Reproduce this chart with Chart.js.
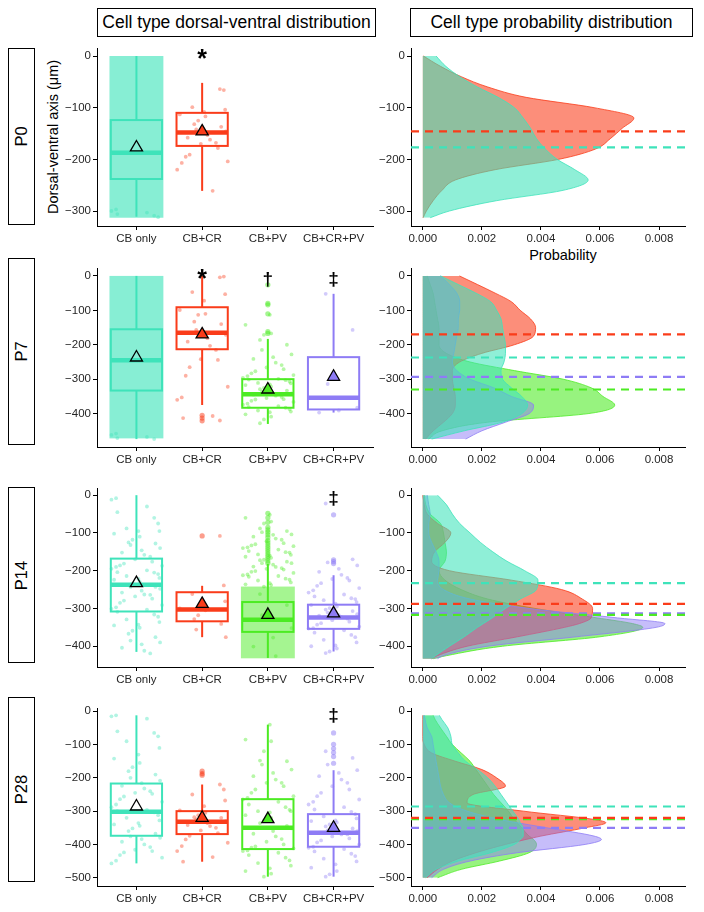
<!DOCTYPE html>
<html>
<head>
<meta charset="utf-8">
<script src="https://cdn.jsdelivr.net/npm/chart.js@4.4.1/dist/chart.umd.min.js"></script>
<style>
  body { margin: 0; background: #fff; font-family: 'Liberation Sans', Arial, sans-serif; }
  #page { position: relative; width: 704px; height: 912px; overflow: hidden; background: #fff; }
  .frame { position: absolute; border: 1px solid #000; box-sizing: border-box; display: flex;
           align-items: center; justify-content: center; color: #000; white-space: nowrap; }
  .hdr { font-size: 17.5px; }
  .row span { display: block; transform: rotate(-90deg); font-size: 16.5px; }
  .lbl { position: absolute; white-space: nowrap; color: #000; font-size: 14.5px; transform: translate(-50%, -50%); }
  canvas { position: absolute; }
</style>
</head>
<body>
<div id="page">
  <div class="frame hdr" style="left:97px;top:8px;width:279px;height:29px">Cell type dorsal-ventral distribution</div>
  <div class="frame hdr" style="left:410px;top:8px;width:283px;height:29px">Cell type probability distribution</div>
  <div class="lbl" style="left:53px;top:137px;transform:translate(-50%,-50%) rotate(-90deg)">Dorsal-ventral axis (μm)</div>
  <div class="lbl" style="left:563px;top:255px">Probability</div>
</div>
<script>
const groups = ['CB only', 'CB+CR', 'CB+PV', 'CB+CR+PV'];
const stages = ['P0', 'P7', 'P14', 'P28'];

// box stats per group: [lower whisker, Q1, median, Q3, upper whisker] (µm)
const boxP0 = [[-311, -238, -187, -124, 0], [-261, -174, -148, -110, -52], null, null];
const boxP7 = [[-474, -333, -245, -155, 0], [-375, -213, -165, -91, 0], [-430, -383, -344, -300, -183], [-397, -388, -354, -236, -52]];
const boxP14 = [[-415, -308, -237, -168, 0], [-376, -334, -303, -257, -240], [-431, -362, -330, -283, -182], [-414, -354, -324, -290, -212]];
const boxP28 = [[-457, -374, -302, -217, -12], [-452, -369, -332, -300, -220], [-497, -414, -350, -264, -40], [-497, -407, -365, -309, -177]];

// group means (triangles and dashed lines)
const meanP0 = [-177, -146, null, null];
const meanP7 = [-237, -170, -330, -293];
const meanP14 = [-233, -288, -317, -313];
const meanP28 = [-286, -320, -324, -350];

// boxplot outliers
const outP0 = [[], [], [], []];
const outP7 = [[], [-405, -413, -421], [-26, -80, -84, -110, -162, -167], []];
const outP14 = [[], [-108], [-48, -60, -72, -85, -92, -98, -105, -112, -120, -126, -132, -138, -144, -150, -156, -162, -168, -174, -180], [-52, -171, -176, -181]];
const outP28 = [[], [-180, -187, -192], [], [-65, -99, -112, -124, -136, -156]];

// dense point clouds [deepest, shallowest]
const cloudP0 = [[-313, 0], null, null, null];
const cloudP7 = [[-472, 0], null, null, null];
const cloudP14 = [null, null, [-432, -242], null];
const cloudP28 = [null, null, null, null];

// individual cell depths (jittered points)
const ptsP0 = [
  [-297, -300, -303, -306, -309, -312],
  [-64, -66, -99, -104, -108, -113, -117, -125, -132, -137, -142, -146, -153, -158, -162, -168, -170, -178, -191, -195, -204, -207, -220, -261],
  [], []
];
const ptsP7 = [
  [-458, -462, -468, -471, -474],
  [-4, -2, -47, -53, -72, -99, -110, -113, -133, -140, -157, -171, -181, -191, -203, -215, -242, -244, -265, -290, -322, -353, -360, -407, -413, -420],
  [-113, -142, -167, -171, -186, -200, -215, -228, -236, -241, -252, -259, -266, -271, -277, -283, -288, -291, -296, -299, -301, -303, -307, -311, -312, -315, -317, -322, -325, -329, -333, -336, -341, -344, -345, -348, -352, -355, -358, -359, -363, -366, -371, -374, -378, -381, -383, -387, -391, -394, -396, -402, -409, -417, -428],
  [-52, -157, -314, -383, -391, -397]
];
const ptsP14 = [
  [-8, -12, -30, -45, -60, -75, -88, -95, -95, -102, -110, -118, -125, -128, -132, -140, -146, -152, -158, -163, -170, -176, -181, -186, -187, -190, -195, -199, -204, -205, -209, -214, -219, -222, -224, -229, -234, -238, -243, -243, -248, -253, -258, -263, -264, -268, -274, -279, -285, -291, -297, -301, -303, -309, -316, -322, -329, -336, -343, -345, -351, -359, -367, -376, -385, -390, -395, -404, -412, -419],
  [-108, -239, -262, -281, -293, -300, -305, -318, -328, -341, -356, -376],
  [-52, -60, -70, -75, -88, -95, -98, -104, -105, -110, -115, -118, -122, -127, -130, -133, -135, -138, -140, -144, -148, -151, -152, -157, -158, -160, -163, -166, -171, -172, -176, -180, -180, -184, -189, -190, -193, -195, -197, -201, -203, -206, -210, -212, -214, -216, -221, -224, -226, -231, -233, -236, -238, -242, -262, -291, -318, -352, -377, -401, -426],
  [-22, -170, -178, -186, -195, -203, -211, -219, -222, -226, -233, -240, -246, -252, -258, -263, -268, -273, -275, -278, -283, -287, -291, -295, -299, -303, -307, -311, -315, -318, -319, -323, -327, -331, -335, -339, -343, -348, -352, -353, -358, -364, -370, -376, -383, -390, -398, -400, -406, -414, -418]
];
const ptsP28 = [
  [-12, -15, -22, -60, -65, -75, -90, -110, -130, -142, -155, -168, -180, -190, -200, -208, -216, -224, -232, -240, -245, -248, -256, -264, -272, -280, -288, -296, -300, -304, -312, -320, -328, -336, -340, -344, -352, -360, -368, -376, -380, -384, -392, -400, -408, -416, -420, -424, -432, -440, -449, -457],
  [-220, -235, -250, -268, -285, -298, -305, -312, -318, -320, -325, -330, -336, -342, -345, -350, -358, -366, -374, -385, -395, -405, -420, -438, -452],
  [-40, -85, -90, -120, -148, -150, -160, -175, -185, -195, -205, -215, -215, -225, -235, -245, -255, -260, -265, -272, -280, -288, -296, -300, -300, -304, -312, -320, -328, -336, -344, -350, -352, -360, -368, -376, -384, -392, -400, -406, -410, -412, -418, -420, -425, -432, -440, -448, -456, -464, -472, -480, -488, -497],
  [-120, -140, -160, -177, -185, -195, -205, -215, -225, -235, -245, -255, -265, -272, -280, -288, -295, -302, -309, -316, -322, -328, -330, -334, -340, -346, -352, -358, -360, -364, -365, -370, -370, -376, -382, -388, -394, -400, -407, -410, -414, -421, -428, -435, -443, -451, -460, -470, -480, -490, -497]
];

// significance marks above the groups
const sigP0 = ['', '*', '', ''];
const sigP7 = ['', '*', '\u2020', '\u2021'];
const sigP14 = ['', '', '', '\u2021'];
const sigP28 = ['', '', '', '\u2021'];

// y axis ranges and ticks
const yRangeP0 = [-329, 15.5], yTicksP0 = [0, -100, -200, -300];
const yRangeP7 = [-497, 23], yTicksP7 = [0, -100, -200, -300, -400];
const yRangeP14 = [-455, 19], yTicksP14 = [0, -100, -200, -300, -400];
const yRangeP28 = [-525, 10], yTicksP28 = [0, -100, -200, -300, -400, -500];

// density curves: probability x 1000 at each depth
const depthP0 = [0, -20, -40, -60, -80, -100, -120, -140, -160, -180, -200, -220, -240, -260, -280, -300, -313];
const densP0_cb = [0.45, 0.78, 1.25, 1.85, 2.55, 3.1, 3.4, 3.65, 3.85, 4.15, 4.55, 5.15, 5.6, 4.75, 2.5, 0.9, 0.25];
const densP0_cr = [0.02, 0.6, 1.3, 2.2, 3.5, 5.8, 7.15, 6.75, 6.35, 5.85, 4.6, 2.45, 1.1, 0.65, 0.35, 0.12, 0.01];

const depthP7 = [0, -25, -50, -75, -100, -125, -150, -175, -200, -225, -250, -275, -300, -325, -350, -375, -400, -425, -450, -474];
const densP7_cb = [0.6, 1.2, 1.8, 2.3, 2.5, 2.65, 2.7, 2.75, 2.8, 2.8, 2.75, 2.65, 2.7, 3.0, 3.35, 3.55, 3.35, 2.7, 1.4, 0.3];
const densP7_cr = [1.24, 1.85, 2.45, 3.0, 3.3, 3.65, 3.82, 3.75, 3.1, 2.0, 1.25, 1.0, 1.0, 1.05, 1.1, 1.1, 1.0, 0.7, 0.35, 0.1];
const densP7_pv = [0.15, 0.25, 0.35, 0.4, 0.45, 0.5, 0.55, 0.55, 0.55, 0.8, 1.6, 3.1, 4.75, 5.7, 6.1, 6.5, 5.6, 2.2, 0.65, 0.2];
const densP7_crpv = [0.6, 0.9, 1.15, 1.25, 1.25, 1.2, 1.2, 1.15, 1.1, 1.05, 1.0, 1.15, 1.6, 2.4, 3.0, 3.75, 3.6, 2.8, 2.0, 1.45];

const depthP14 = [0, -25, -50, -75, -100, -125, -150, -175, -200, -225, -250, -275, -300, -325, -340, -350, -375, -400, -425, -433];
const densP14_cb = [0.5, 0.8, 1.0, 1.25, 1.6, 1.95, 2.37, 2.85, 3.45, 3.9, 3.85, 3.3, 2.8, 2.35, 2.05, 1.85, 1.4, 0.9, 0.43, 0.3];
const densP14_cr = [0, 0.05, 0.15, 0.5, 0.95, 0.75, 0.4, 0.3, 0.9, 3.0, 4.7, 5.4, 5.75, 5.7, 5.3, 4.8, 3.2, 1.5, 0.5, 0.3];
const densP14_pv = [0.05, 0.1, 0.25, 0.6, 0.7, 0.75, 0.8, 0.75, 0.55, 0.75, 1.3, 2.2, 3.8, 5.9, 7.1, 7.45, 6.0, 2.7, 0.8, 0.35];
const densP14_crpv = [0.15, 0.2, 0.25, 0.2, 0.2, 0.3, 0.45, 0.55, 0.55, 0.5, 0.7, 1.6, 3.6, 6.6, 8.2, 7.9, 5.2, 2.2, 0.7, 0.5];

const depthP28 = [-12, -25, -50, -75, -100, -125, -150, -175, -200, -225, -250, -275, -300, -325, -335, -350, -375, -385, -400, -425, -450, -475, -500];
const densP28_cb = [0.56, 0.65, 0.85, 0.95, 1.0, 1.2, 1.45, 1.85, 2.2, 2.45, 2.65, 2.85, 3.05, 3.25, 3.3, 3.4, 3.4, 3.3, 3.1, 2.3, 1.2, 0.45, 0.1];
const densP28_cr = [0, 0, 0, 0, 0.05, 0.3, 1.1, 2.0, 2.5, 2.8, 1.7, 1.5, 3.4, 5.8, 6.2, 5.5, 4.0, 3.5, 2.8, 1.8, 1.0, 0.5, 0.15];
const densP28_pv = [0.35, 0.42, 0.6, 0.8, 1.0, 1.3, 1.6, 1.8, 2.0, 2.2, 2.4, 2.65, 2.9, 3.1, 3.2, 3.35, 3.6, 3.75, 3.85, 3.6, 2.6, 1.3, 0.5];
const densP28_crpv = [0.05, 0.08, 0.15, 0.3, 0.35, 0.4, 0.45, 0.5, 0.55, 0.6, 0.7, 0.9, 1.5, 2.6, 3.2, 4.2, 5.8, 6.05, 5.5, 3.2, 1.6, 0.7, 0.3];

const probTicks = [0, 2, 4, 6, 8];
const probRange = [-0.4, 8.88];

// ---- styling / layout ----
const colors = ['#3EE3BA', '#FA3C1A', '#4CEB23', '#8E7CF5'];
const meanFill = ['rgba(0,0,0,0)', '#FA3C1A', '#4CEB23', '#8E7CF5'];
const cloudAlpha = [0.62, 0.5, 0.5, 0.5];
const JITTER = [-0.31, 0.12, -0.06, 0.27, -0.19, 0.36, 0.03, -0.38, 0.21, -0.12, 0.33, -0.25, 0.08, -0.34, 0.16, -0.02, 0.29, -0.15, 0.39, -0.22, 0.05, -0.29, 0.24, -0.09, 0.35];
const plotTop = [48, 268, 488, 708];
const plotBottom = [226, 447, 667, 886];
const rowBox = [[48, 225], [258, 445], [487, 663], [697, 882]];
const tickFont = { family: "'Liberation Sans', Arial, sans-serif", size: 11.5 };
const tickColor = '#262626';

const stageData = [
  { box: boxP0, mean: meanP0, out: outP0, pts: ptsP0, cloud: cloudP0, sig: sigP0, yr: yRangeP0, yt: yTicksP0, depth: depthP0, dens: [densP0_cb, densP0_cr, null, null] },
  { box: boxP7, mean: meanP7, out: outP7, pts: ptsP7, cloud: cloudP7, sig: sigP7, yr: yRangeP7, yt: yTicksP7, depth: depthP7, dens: [densP7_cb, densP7_cr, densP7_pv, densP7_crpv] },
  { box: boxP14, mean: meanP14, out: outP14, pts: ptsP14, cloud: cloudP14, sig: sigP14, yr: yRangeP14, yt: yTicksP14, depth: depthP14, dens: [densP14_cb, densP14_cr, densP14_pv, densP14_crpv] },
  { box: boxP28, mean: meanP28, out: outP28, pts: ptsP28, cloud: cloudP28, sig: sigP28, yr: yRangeP28, yt: yTicksP28, depth: depthP28, dens: [densP28_cb, densP28_cr, densP28_pv, densP28_crpv] }
];

const page = document.getElementById('page');

function fade(hex, a) {
  const n = parseInt(hex.slice(1), 16);
  return `rgba(${n >> 16},${(n >> 8) & 255},${n & 255},${a})`;
}

function yScale(s, w) {
  return {
    type: 'linear', min: s.yr[0], max: s.yr[1],
    afterBuildTicks: sc => { sc.ticks = s.yt.map(v => ({ value: v })); },
    afterFit: sc => { sc.width = w; },
    ticks: { font: tickFont, color: tickColor, padding: 2,
             callback: v => v === 0 ? '0' : '\u2212' + Math.abs(v) },
    grid: { drawOnChartArea: false, tickLength: 4, color: '#000' },
    border: { color: '#000', width: 1 }
  };
}

function addCanvas(left, k, w) {
  const cv = document.createElement('canvas');
  cv.width = w;
  cv.height = plotBottom[k] - plotTop[k] + 10 + 24;
  cv.style.left = left + 'px';
  cv.style.top = (plotTop[k] - 10) + 'px';
  page.appendChild(cv);
  return cv;
}

// draws clouds, boxes, whiskers and significance marks with the chart's scales
function boxLayer(s) {
  return {
    id: 'boxLayer',
    beforeDatasetsDraw(chart) {
      const { ctx, scales: { x, y } } = chart;
      s.cloud.forEach((c, g) => {
        if (!c) return;
        const x0 = x.getPixelForValue(g + 1 - 0.41), x1 = x.getPixelForValue(g + 1 + 0.41);
        const y0 = y.getPixelForValue(c[1]), y1 = y.getPixelForValue(c[0]);
        ctx.fillStyle = fade(colors[g], cloudAlpha[g]);
        ctx.fillRect(x0, y0, x1 - x0, y1 - y0);
      });
    },
    afterDatasetDraw(chart, args) {
      if (chart.data.datasets[args.index].label !== 'jitter') return;
      const { ctx, scales: { x, y } } = chart;
      const seg = (x0, y0, x1, y1) => { ctx.beginPath(); ctx.moveTo(x0, y0); ctx.lineTo(x1, y1); ctx.stroke(); };
      ctx.save();
      s.box.forEach((b, g) => {
        if (!b) return;
        const [lo, q1, med, q3, hi] = b.map(v => y.getPixelForValue(v));
        const cx = x.getPixelForValue(g + 1);
        const xl = x.getPixelForValue(g + 1 - 0.39), xr = x.getPixelForValue(g + 1 + 0.39);
        ctx.strokeStyle = colors[g];
        ctx.lineWidth = 2;
        seg(cx, hi, cx, q3);
        seg(cx, q1, cx, lo);
        ctx.strokeRect(xl, q3, xr - xl, q1 - q3);
        ctx.lineWidth = 4.5;
        seg(xl, med, xr, med);
      });
      ctx.restore();
    },
    afterDraw(chart) {
      const { ctx, scales: { x, y } } = chart;
      ctx.save();
      ctx.fillStyle = '#000';
      ctx.textAlign = 'center';
      ctx.textBaseline = 'middle';
      s.sig.forEach((m, g) => {
        if (!m) return;
        ctx.font = (m === '*' ? 'bold 25px ' : 'bold 19px ') + "'Liberation Sans', Arial, sans-serif";
        ctx.fillText(m, x.getPixelForValue(g + 1), y.getPixelForValue(0) + 4);
      });
      ctx.restore();
    }
  };
}

function boxChart(s, k) {
  const cv = addCanvas(40, k, 345);
  const jit = [], jitCol = [], outs = [], outCol = [], means = [], meanCol = [];
  s.pts.forEach((arr, g) => arr.forEach((v, j) => {
    jit.push({ x: g + 1 + JITTER[(j * 7 + g * 3) % JITTER.length], y: v });
    jitCol.push(fade(colors[g], 0.4));
  }));
  s.out.forEach((arr, g) => arr.forEach(v => { outs.push({ x: g + 1, y: v }); outCol.push(fade(colors[g], 0.5)); }));
  s.mean.forEach((v, g) => { if (v !== null) { means.push({ x: g + 1, y: v }); meanCol.push(meanFill[g]); } });

  new Chart(cv, {
    type: 'scatter',
    data: {
      datasets: [
        { label: 'mean', data: means, pointStyle: 'triangle', pointRadius: 7, backgroundColor: meanCol, borderColor: '#000', borderWidth: 1.3 },
        { label: 'outliers', data: outs, pointRadius: 2.6, backgroundColor: outCol, borderWidth: 0 },
        { label: 'jitter', data: jit, pointRadius: 1.9, backgroundColor: jitCol, borderWidth: 0 }
      ]
    },
    options: {
      responsive: false, animation: false, events: [],
      layout: { padding: { top: 10, right: 12, left: 0, bottom: 0 } },
      plugins: { legend: { display: false }, tooltip: { enabled: false } },
      scales: {
        x: {
          type: 'linear', min: 0.4, max: 4.6,
          afterBuildTicks: sc => { sc.ticks = [1, 2, 3, 4].map(v => ({ value: v })); },
          afterFit: sc => { sc.height = 24; },
          ticks: { font: tickFont, color: tickColor, padding: 2, maxRotation: 0, autoSkip: false,
                   callback: v => groups[v - 1] },
          grid: { drawOnChartArea: false, tickLength: 4, color: '#000' },
          border: { color: '#000', width: 1 }
        },
        y: yScale(s, 57)
      }
    },
    plugins: [boxLayer(s)]
  });
}

function densityChart(s, k) {
  const cv = addCanvas(355, k, 349);
  const datasets = [];
  // dashed mean lines on top
  [1, 0, 2, 3].forEach(g => {
    const m = s.mean[g];
    if (m === null) return;
    datasets.push({ data: [{ x: probRange[0], y: m }, { x: probRange[1], y: m }], borderColor: colors[g],
                    borderWidth: 2.2, borderDash: [8, 6], pointRadius: 0, fill: false, tension: 0 });
  });
  // densities: teal on top, then purple, red, green at the bottom
  [0, 3, 1, 2].forEach(g => {
    const d = s.dens[g];
    if (!d) return;
    datasets.push({ data: s.depth.map((dep, i) => ({ x: d[i], y: dep })), borderColor: colors[g], borderWidth: 0.8,
                    backgroundColor: fade(colors[g], g === 3 ? 0.5 : 0.58), fill: 'origin', pointRadius: 0,
                    cubicInterpolationMode: 'monotone' });
  });

  new Chart(cv, {
    type: 'line',
    data: { datasets },
    options: {
      indexAxis: 'y',
      responsive: false, animation: false, events: [],
      layout: { padding: { top: 10, right: 19, left: 0, bottom: 0 } },
      plugins: { legend: { display: false }, tooltip: { enabled: false } },
      scales: {
        x: {
          type: 'linear', min: probRange[0], max: probRange[1],
          afterBuildTicks: sc => { sc.ticks = probTicks.map(v => ({ value: v })); },
          afterFit: sc => { sc.height = 24; },
          ticks: { font: tickFont, color: tickColor, padding: 2, maxRotation: 0, autoSkip: false,
                   callback: v => (v / 1000).toFixed(3) },
          grid: { drawOnChartArea: false, tickLength: 4, color: '#000' },
          border: { color: '#000', width: 1 }
        },
        y: yScale(s, 56)
      }
    }
  });
}

stages.forEach((name, k) => {
  const r = document.createElement('div');
  r.className = 'frame row';
  r.style.cssText = `left:8px;top:${rowBox[k][0]}px;width:27px;height:${rowBox[k][1] - rowBox[k][0]}px`;
  r.innerHTML = `<span>${name}</span>`;
  page.appendChild(r);
  boxChart(stageData[k], k);
  densityChart(stageData[k], k);
});
</script>
</body>
</html>
